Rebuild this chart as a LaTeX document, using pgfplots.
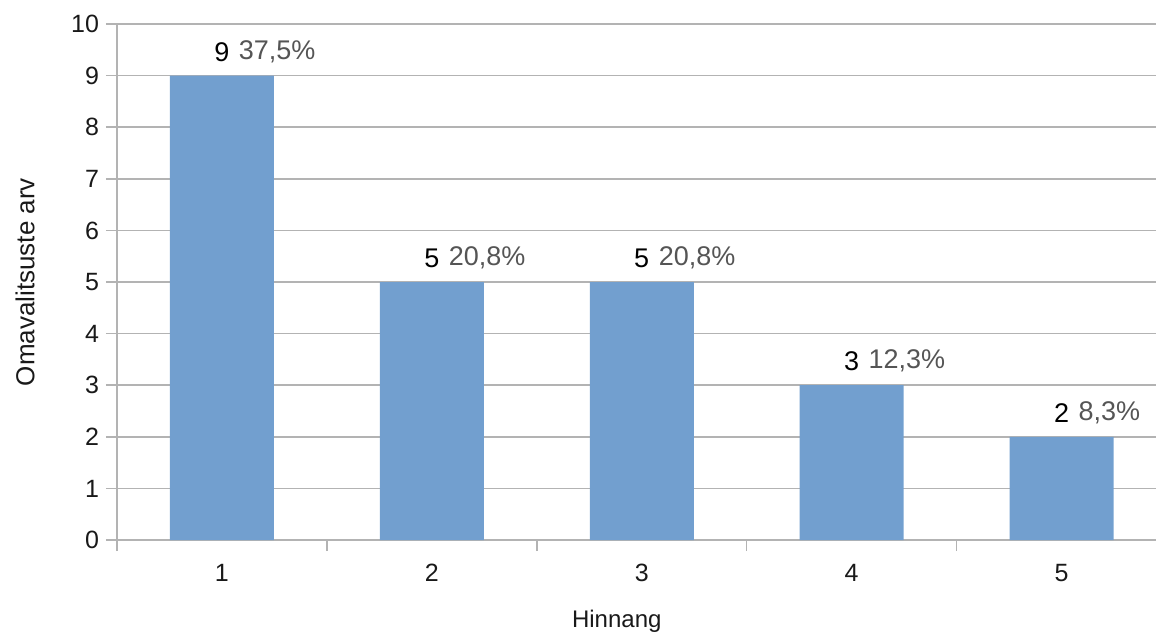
\documentclass[border=0pt]{standalone}
\usepackage{pgfplots}
\pgfplotsset{compat=1.18}
\usepackage{pgfplotstable}
\usepackage{fontspec}
\setmainfont{Liberation Sans}
\definecolor{barblue}{HTML}{729FCF}
\definecolor{gridgray}{HTML}{B3B3B3}
\definecolor{pctgray}{HTML}{555555}
\pgfplotstableread{
x y pct
1 9 37,5
2 5 20,8
3 5 20,8
4 3 12,3
5 2 8,3
}\datatable
\begin{document}
\begin{tikzpicture}
\useasboundingbox (-58.5pt,-46.5pt) rectangle (519.5pt,270pt);
\begin{axis}[
  at={(0,0)}, anchor=south west,
  scale only axis, width=519.5pt, height=258pt,
  xmin=0.5, xmax=5.45, ymin=0, ymax=10,
  /pgf/number format/assume math mode=true,
  axis lines=left, axis line style={-, draw=gridgray, line width=0.75pt},
  xtick={1,2,3,4,5}, xtick style={draw=none},
  extra x ticks={0.5,1.5,2.5,3.5,4.5},
  extra x tick labels={},
  extra x tick style={grid=none, xtick style={draw=gridgray, line width=0.75pt}},
  ytick={0,1,...,10}, ytick style={draw=gridgray, line width=0.75pt},
  major tick length=5.5pt, tick align=outside,
  ymajorgrids, grid style={draw=gridgray, line width=0.75pt},
  tick label style={font=\fontsize{12.5pt}{14pt}\selectfont, text=black!90},
  xticklabel style={yshift=-3pt},
  xlabel={Hinnang},
  xlabel style={at={(axis description cs:0.481,-0.136)}, anchor=north, inner sep=0pt, font=\fontsize{12pt}{14pt}\selectfont, text=black!90},
  ylabel={Omavalitsuste arv},
  ylabel style={at={(axis description cs:-0.0885,0.5)}, anchor=center, font=\fontsize{13pt}{15pt}\selectfont, text=black!90},
  ybar, bar width=52pt,
  point meta=explicit symbolic,
  visualization depends on={rawy \as \rawyval},
  nodes near coords={\makebox[0pt][c]{\pgfmathprintnumber{\rawyval}}\rlap{\hspace{8.5pt}\textcolor{pctgray}{\raisebox{1pt}{\pgfplotspointmeta\%}}}},
  nodes near coords style={anchor=south, inner sep=0pt, text depth=0pt, yshift=7pt, font=\fontsize{13.5pt}{16pt}\selectfont, text=black},
]
\addplot[fill=barblue, draw=none] table[x=x, y=y, meta=pct] {\datatable};
\end{axis}
\end{tikzpicture}
\end{document}
